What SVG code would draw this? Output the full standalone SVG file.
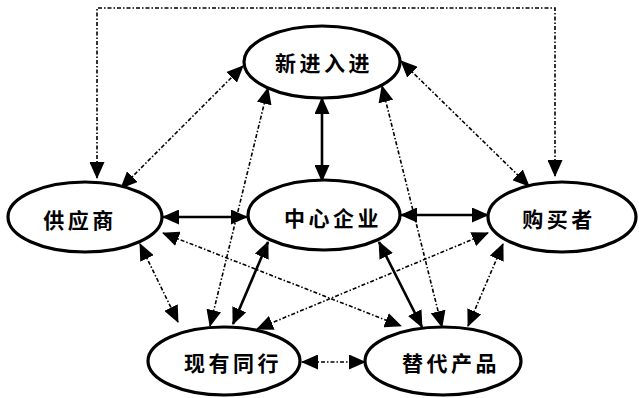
<svg xmlns="http://www.w3.org/2000/svg" width="639" height="398" viewBox="0 0 639 398">
<style>
.node ellipse{fill:#fff;stroke:#000;stroke-width:3.2}
.node text{font-family:"Noto Sans CJK SC","Noto Sans",sans-serif;font-size:21px;font-weight:700;letter-spacing:3.5px;text-anchor:middle;fill:#000}
.solid{stroke:#000;stroke-width:2.6;fill:none;marker-start:url(#ah);marker-end:url(#ah)}
.dot{stroke:#000;stroke-width:1.6;fill:none;stroke-dasharray:4 2 1.5 2;marker-start:url(#ah);marker-end:url(#ah)}
</style>
<defs>
<marker id="ah" viewBox="0 0 17 15" refX="16" refY="7.5" markerWidth="17" markerHeight="15" markerUnits="userSpaceOnUse" orient="auto-start-reverse">
<path d="M0,0 L17,7.5 L0,15 z" fill="#000"/>
</marker>
</defs>
<rect width="639" height="398" fill="#fff"/>
<g id="connectors">
<path class="dot" d="M97,178 L97,8 L555,8 L555,176"/>
<line class="dot" x1="121" y1="188" x2="243" y2="66"/>
<line class="solid" x1="322" y1="98" x2="322" y2="181"/>
<line class="dot" x1="401" y1="61" x2="529" y2="186"/>
<line class="dot" x1="268" y1="88" x2="210" y2="326"/>
<line class="solid" x1="163" y1="217" x2="247" y2="217"/>
<line class="solid" x1="401" y1="215" x2="488" y2="215"/>
<line class="dot" x1="163" y1="233" x2="401" y2="326"/>
<line class="dot" x1="488" y1="233" x2="257" y2="329"/>
<line class="solid" x1="268" y1="242" x2="233" y2="324"/>
<line class="solid" x1="379" y1="242" x2="422" y2="327"/>
<line class="dot" x1="382" y1="86" x2="442" y2="327"/>
<line class="dot" x1="503" y1="244" x2="468" y2="326"/>
<line class="dot" x1="302" y1="362" x2="365" y2="362"/>
<line class="dot" x1="140" y1="244" x2="178" y2="322"/>
</g>
<g id="node-xinjin" class="node"><ellipse cx="322" cy="62" rx="78" ry="36"/><text x="324" y="71">新进入进</text></g>
<g id="node-gongying" class="node"><ellipse cx="85" cy="217" rx="77" ry="35"/><text x="80" y="228">供应商</text></g>
<g id="node-zhongxin" class="node"><ellipse cx="324" cy="215" rx="76" ry="35"/><text x="333" y="226">中心企业</text></g>
<g id="node-goumai" class="node"><ellipse cx="562" cy="217" rx="74" ry="35"/><text x="559" y="227">购买者</text></g>
<g id="node-xianyou" class="node"><ellipse cx="224" cy="361" rx="76" ry="34"/><text x="233" y="371">现有同行</text></g>
<g id="node-tidai" class="node"><ellipse cx="443" cy="361" rx="78" ry="34"/><text x="451" y="371">替代产品</text></g>
</svg>
